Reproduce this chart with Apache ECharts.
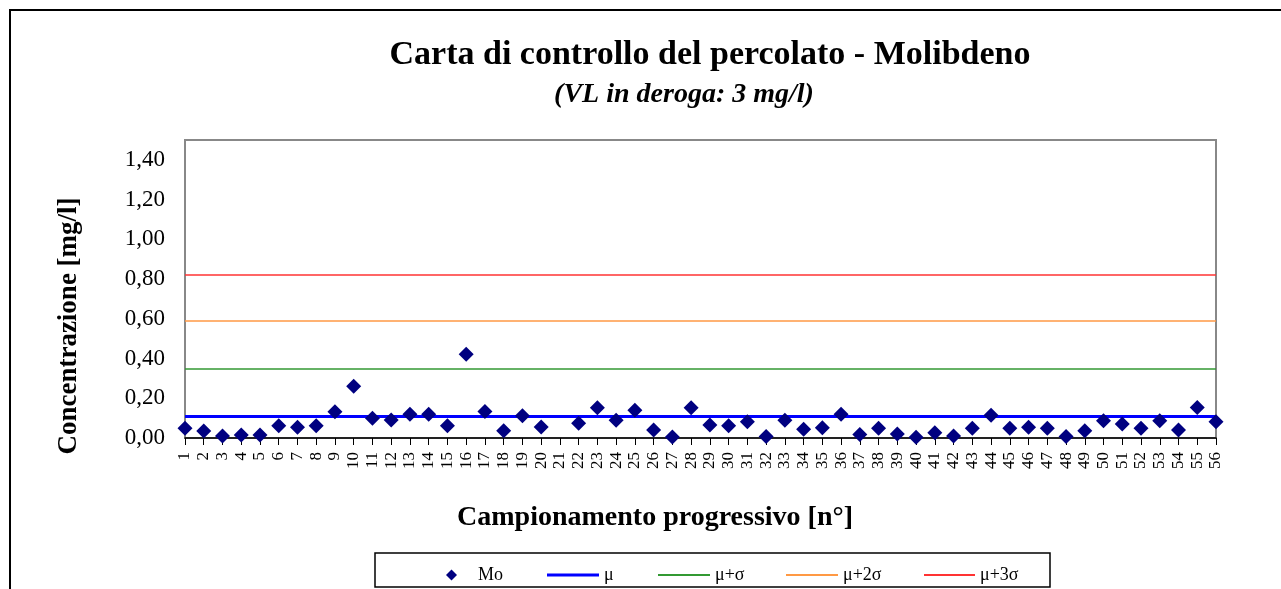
<!DOCTYPE html>
<html>
<head>
<meta charset="utf-8">
<script src="https://cdn.jsdelivr.net/npm/echarts@6/dist/echarts.min.js"></script>
<style>html,body{margin:0;padding:0;background:#fff;}#c{width:1281px;height:589px;}</style>
</head>
<body>
<div id="c"></div>
<script>
// ---- data ----
const categories = ['1','2','3','4','5','6','7','8','9','10','11','12','13','14','15','16','17','18','19','20','21','22','23','24','25','26','27','28','29','30','31','32','33','34','35','36','37','38','39','40','41','42','43','44','45','46','47','48','49','50','51','52','53','54','55','56'];
const moValues = [0.049,0.035,0.010,0.015,0.015,0.062,0.054,0.062,0.132,0.261,
                  0.099,0.090,0.119,0.119,0.062,0.421,0.133,0.037,0.112,0.055,
                  null,0.074,0.152,0.089,0.140,0.040,0.005,0.152,0.065,0.062,
                  0.082,0.007,0.089,0.044,0.052,0.120,0.017,0.049,0.020,0.004,
                  0.027,0.010,0.049,0.115,0.049,0.054,0.049,0.007,0.037,0.087,
                  0.070,0.049,0.087,0.040,0.154,0.082];
const mu = 0.110;
const muPlusSigma = 0.348;
const muPlus2Sigma = 0.586;
const muPlus3Sigma = 0.824;
const yTicks = [0, 0.2, 0.4, 0.6, 0.8, 1.0, 1.2, 1.4];

const FONT = 'Liberation Serif';
const chart = echarts.init(document.getElementById('c'));

function limitSeries(name, value, color, width) {
  return {
    name: name, type: 'line', data: [], symbol: 'none', showSymbol: false,
    color: color,
    itemStyle: { color: color },
    lineStyle: { color: color, width: width },
    markLine: {
      silent: true, symbol: 'none', label: { show: false },
      lineStyle: { color: color, width: width, type: 'solid' },
      data: [{ yAxis: value }]
    }
  };
}

const LEGEND_TOP = 560;
const legendText = { fontFamily: FONT, fontSize: 18, color: '#000', lineHeight: 20 };
function lineLegend(name, left, h, w) {
  return { data: [{ name: name, icon: 'rect' }], left: left, top: LEGEND_TOP, itemWidth: w, itemHeight: h,
           textStyle: legendText, selectedMode: false };
}

chart.setOption({
  animation: false,
  backgroundColor: '#fff',
  textStyle: { fontFamily: FONT },
  grid: { left: 185, right: 65, top: 140, bottom: 151, show: true, borderColor: '#888', borderWidth: 2, containLabel: false },
  xAxis: {
    type: 'category', data: categories, boundaryGap: false,
    axisLine: { show: true, lineStyle: { color: '#000', width: 1.5 } },
    axisTick: { show: true, length: 7, interval: 0, lineStyle: { color: '#000' } },
    axisLabel: { interval: 0, rotate: 90, fontFamily: FONT, fontSize: 17, color: '#000', margin: 14 },
    splitLine: { show: false }
  },
  yAxis: {
    type: 'value', min: 0, max: 1.5, interval: 0.2,
    axisLine: { show: false }, axisTick: { show: false }, splitLine: { show: false },
    axisLabel: {
      fontFamily: FONT, fontSize: 23, color: '#000', margin: 20,
      formatter: function (v) {
        const t = yTicks.find(x => Math.abs(x - v) < 1e-6);
        return t === undefined ? '' : t.toFixed(2).replace('.', ',');
      }
    }
  },
  legend: [
    { data: [{ name: 'Mo', icon: 'diamond' }], left: 441, top: LEGEND_TOP, itemWidth: 11, itemHeight: 11, selectedMode: false,
      textStyle: Object.assign({}, legendText, { padding: [0, 0, 0, 16] }) },
    lineLegend('μ', 542, 3, 52),
    lineLegend('μ+σ', 653, 2, 52),
    lineLegend('μ+2σ', 781, 2, 52),
    lineLegend('μ+3σ', 919, 2, 51)
  ],
  series: [
    { name: 'Mo', type: 'scatter', data: moValues, symbol: 'diamond', symbolSize: 15, clip: false,
      itemStyle: { color: '#000080', opacity: 1 }, z: 5 },
    limitSeries('μ', mu, '#0000FF', 3),
    limitSeries('μ+σ', muPlusSigma, '#339933', 1.5),
    limitSeries('μ+2σ', muPlus2Sigma, '#FF9944', 1.5),
    limitSeries('μ+3σ', muPlus3Sigma, '#FF3333', 1.5)
  ],
  graphic: [
    { type: 'rect', shape: { x: 10, y: 10, width: 1300, height: 600 }, style: { fill: 'none', stroke: '#000', lineWidth: 2 }, silent: true },
    { type: 'rect', shape: { x: 375, y: 553, width: 675, height: 34 }, style: { fill: 'none', stroke: '#000', lineWidth: 1.5 }, silent: true, z: -1 },
    { type: 'text', x: 710, y: 55, style: { text: 'Carta di controllo del percolato - Molibdeno', font: 'bold 34px "Liberation Serif"', fill: '#000', textAlign: 'center', textVerticalAlign: 'middle' } },
    { type: 'text', x: 684, y: 95, style: { text: '(VL in deroga: 3 mg/l)', font: 'italic bold 28px "Liberation Serif"', fill: '#000', textAlign: 'center', textVerticalAlign: 'middle' } },
    { type: 'text', x: 655, y: 518, style: { text: 'Campionamento progressivo [n°]', font: 'bold 28px "Liberation Serif"', fill: '#000', textAlign: 'center', textVerticalAlign: 'middle' } },
    { type: 'text', x: 69, y: 326, rotation: Math.PI / 2, style: { text: 'Concentrazione [mg/l]', font: 'bold 27px "Liberation Serif"', fill: '#000', textAlign: 'center', textVerticalAlign: 'middle' } }
  ]
});
</script>
</body>
</html>
